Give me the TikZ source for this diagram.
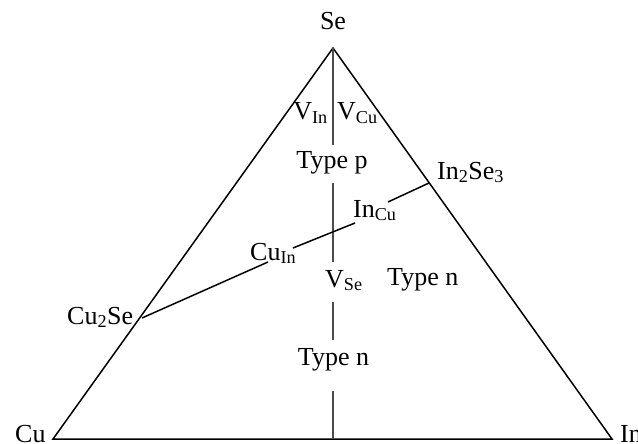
\documentclass[tikz,border=0pt]{standalone}
\usepackage{fontspec}
\setmainfont{Liberation Serif}
\begin{document}
\begin{tikzpicture}[x=1pt,y=-1pt,
  lbl/.style={inner sep=0pt, font=\fontsize{26}{30}\selectfont},
  edge/.style={line width=1.5pt, black},
  axis/.style={line width=1.5pt, black!70}]
\useasboundingbox (0,0) rectangle (638,444);
% vertices
\coordinate (Cu) at (53,439);
\coordinate (In) at (612,439);
\coordinate (Se) at (333,48);
\coordinate (bot) at (333,439);
\draw[edge, line join=miter] (Cu) -- (Se) -- (In) -- cycle;
% labels
\node[lbl, anchor=base] (SeL) at (333,30) {Se};
\node[lbl, anchor=base west] (CuL) at (15,442) {Cu};
\node[lbl, anchor=base west] (InL) at (620,442) {In};
\node[lbl, anchor=base west] (Cu2SeL) at (67,324) {Cu\textsubscript{2}Se};
\node[lbl, anchor=base west] (In2Se3L) at (437,179) {In\textsubscript{2}Se\textsubscript{3}};
\node[lbl, anchor=base east] (VIn) at (328,120) {V\textsubscript{In}};
\node[lbl, anchor=base west] (VCu) at (337,120) {V\textsubscript{Cu}};
\node[lbl, anchor=base] (TypeP) at (332,168) {Type p};
\node[lbl, anchor=base west] (InCu) at (353,217) {In\textsubscript{Cu}};
\node[lbl, anchor=base west] (CuIn) at (250,260) {Cu\textsubscript{In}};
\node[lbl, anchor=base west] (VSe) at (325,287) {V\textsubscript{Se}};
\node[lbl, anchor=base west] (TypeN1) at (387,285) {Type n};
\node[lbl, anchor=base] (TypeN2) at (333.5,365) {Type n};
% vertical line with gaps
\coordinate (v1) at (333,145);
\coordinate (v2) at (333,183);
\coordinate (v3) at (333,262);
\coordinate (v4) at (333,302);
\coordinate (v5) at (333,340);
\coordinate (v6) at (333,391);
\draw[axis] (Se) -- (v1);
\draw[axis] (v2) -- (v3);
\draw[axis] (v4) -- (v5);
\draw[axis] (v6) -- (bot);
% Cu2Se -- In2Se3 tie line with gaps
\coordinate (p1) at (142,318);
\coordinate (q1) at (268,262);
\coordinate (q2) at (293,248);
\coordinate (q3) at (355,223);
\coordinate (q4) at (388,202);
\coordinate (p2) at (429,183);
\draw[edge] (p1) -- (q1);
\draw[edge] (q2) -- (q3);
\draw[edge] (q4) -- (p2);
\end{tikzpicture}
\end{document}
